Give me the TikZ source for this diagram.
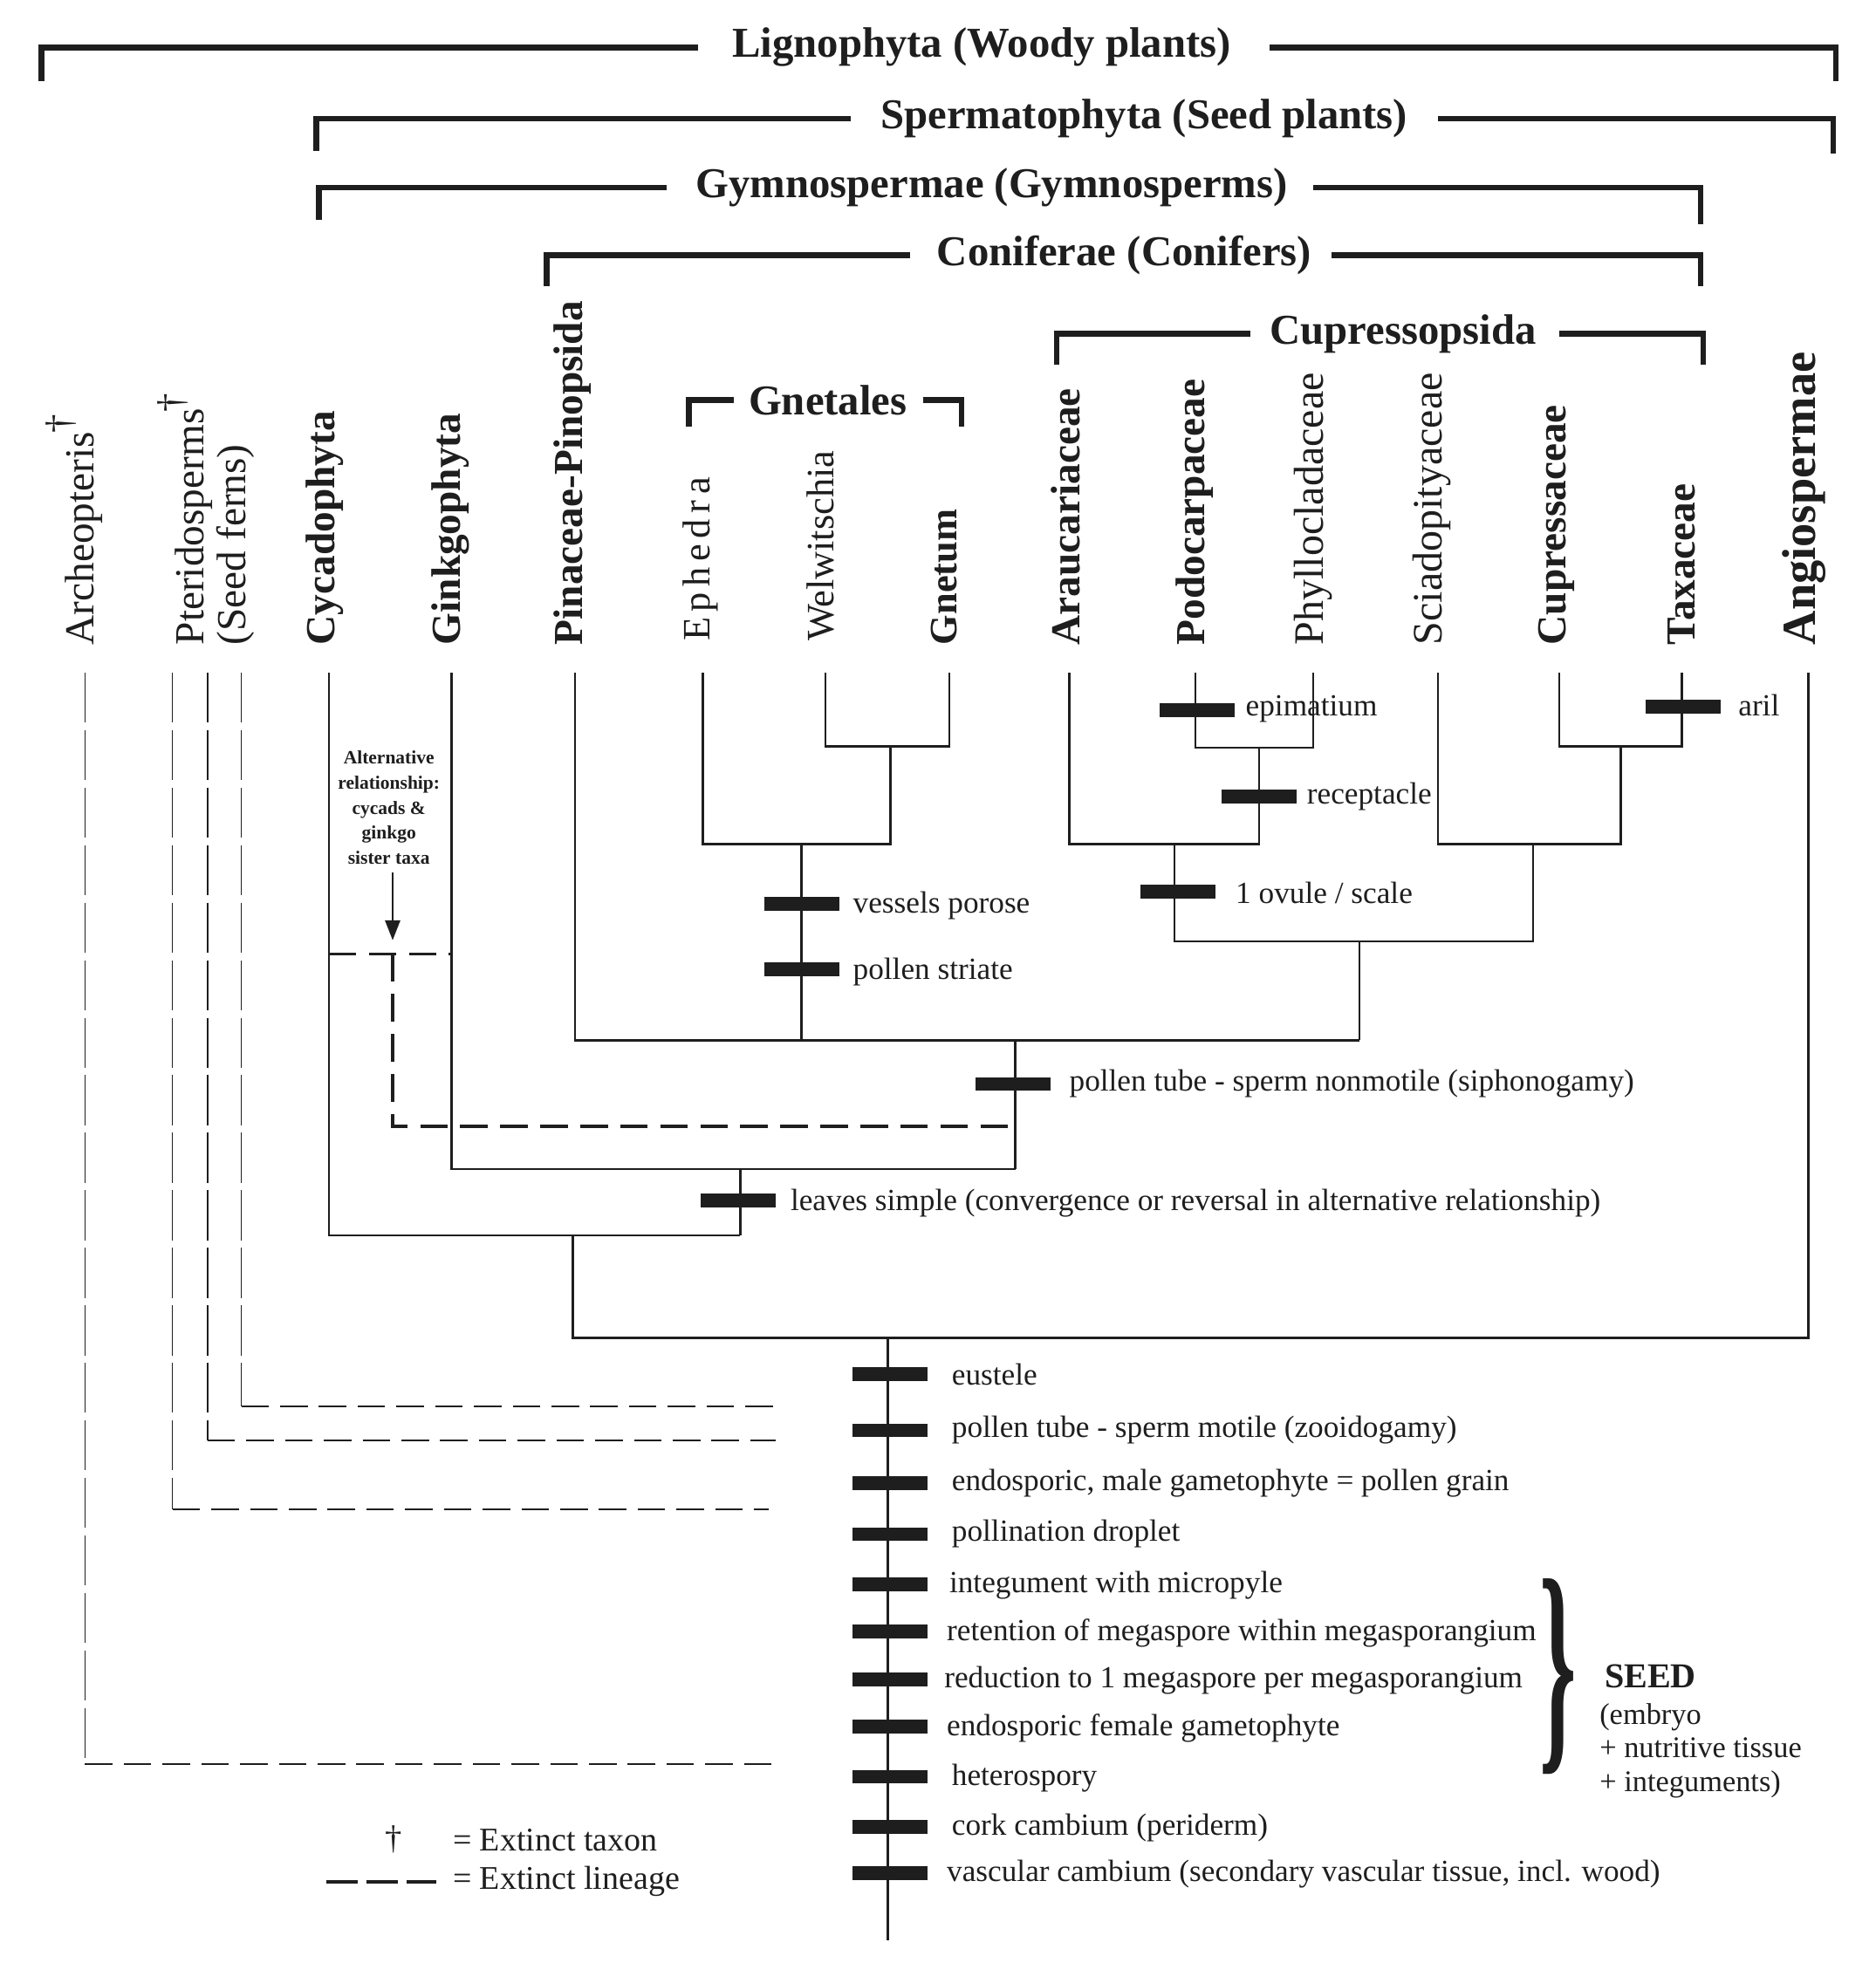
\documentclass[tikz,border=0pt]{standalone}
\usepackage{fontspec}
\setmainfont{Liberation Serif}
\usetikzlibrary{arrows.meta}
\definecolor{ink}{HTML}{1E1E1E}
\newcommand{\myfs}[1]{\fontsize{#1}{#1}\selectfont}
\begin{document}
\begin{tikzpicture}[x=1pt,y=-1pt,
  hdr/.style={line width=4.5pt, draw=ink, line join=miter},
  hdrtext/.style={font=\myfs{34}\bfseries, text=ink, inner sep=0},
  br/.style={line width=1.7pt, draw=ink},
  ext/.style={line width=1pt, draw=ink, dash pattern=on 40pt off 6pt},
  exth/.style={line width=1.6pt, draw=ink, dash pattern=on 22pt off 9pt},
  alt/.style={line width=2.6pt, draw=ink, dash pattern=on 22pt off 10pt},
  bar/.style={fill=ink, minimum width=60pt, minimum height=11pt, inner sep=0, draw=none},
  taxon/.style={rotate=90, anchor=west, inner sep=0, text=ink},
  dagg/.style={rotate=90, anchor=center, inner sep=0, text=ink, font=\myfs{30}},
  chartext/.style={anchor=west, inner sep=0, font=\myfs{24.6}, text=ink},
  legtext/.style={anchor=west, inner sep=0, font=\myfs{26.5}, text=ink}]
\useasboundingbox (0,0) rectangle (1500,1570);
\fill[white] (0,0) rectangle (1500,1570);

% ---------- group brackets ----------
\node[hdrtext] (lig) at (785,38) {Lignophyta (Woody plants)};
\draw[hdr] (33,65) |- (558,38);
\draw[hdr] (1015,38) -| (1468,65);
\node[hdrtext] (spe) at (915,95) {Spermatophyta (Seed plants)};
\draw[hdr] (253,121) |- (680,95);
\draw[hdr] (1150,95) -| (1466,123);
\node[hdrtext] (gym) at (793,150) {Gymnospermae (Gymnosperms)};
\draw[hdr] (255,176) |- (533,150);
\draw[hdr] (1050,150) -| (1360,179);
\node[hdrtext] (con) at (899,204) {Coniferae (Conifers)};
\draw[hdr] (437,229) |- (728,204);
\draw[hdr] (1065,204) -| (1360,229);
\node[hdrtext] (cus) at (1122,267) {Cupressopsida};
\draw[hdr] (845,292) |- (1000,267);
\draw[hdr] (1247,267) -| (1362,292);
\node[hdrtext] (gnt) at (662,320) {Gnetales};
\draw[hdr] (551,341) |- (587,320);
\draw[hdr] (738,320) -| (769,341);

% ---------- taxa ----------
\node[taxon, font=\myfs{33}] (Arch) at (67,516) {Archeopteris};
\node[dagg] (dagA) at (49,339) {\dag};
\node[taxon, font=\myfs{33}] (Pter) at (155,516) {Pteridosperms};
\node[dagg] (dagP) at (138,322) {\dag};
\node[taxon, font=\myfs{33}] (Seed) at (188,516) {(Seed ferns)};
\node[taxon, font=\myfs{33}\bfseries] (Cyc) at (260,516) {Cycadophyta};
\node[taxon, font=\myfs{33}\bfseries] (Gin) at (360,516) {Ginkgophyta};
\node[taxon, font=\myfs{33}\bfseries] (Pin) at (458,516) {Pinaceae-Pinopsida};
\node[taxon, font=\myfs{31}\addfontfeature{LetterSpace=15}] (Eph) at (560,513) {Ephedra};
\node[taxon, font=\myfs{31}] (Wel) at (656,513) {Welwitschia};
\node[taxon, font=\myfs{31}\bfseries] (Gne) at (755,516) {Gnetum};
\node[taxon, font=\myfs{33}\bfseries] (Ara) at (852,516) {Araucariaceae};
\node[taxon, font=\myfs{33}\bfseries] (Pod) at (955,516) {Podocarpaceae};
\node[taxon, font=\myfs{33.5}] (Phy) at (1050,516) {Phyllocladaceae};
\node[taxon, font=\myfs{33.5}] (Sci) at (1145,516) {Sciadopityaceae};
\node[taxon, font=\myfs{33}\bfseries] (Cup) at (1245,516) {Cupressaceae};
\node[taxon, font=\myfs{33}\bfseries] (Tax) at (1345,516) {Taxaceae};
\node[taxon, font=\myfs{38}\bfseries] (Ang) at (1443,516) {Angiospermae};

% ---------- tip coordinates ----------
\coordinate (archT) at (68,538);
\coordinate (pt1T) at (138,538);
\coordinate (pt2T) at (166,538);
\coordinate (pt3T) at (193,538);
\coordinate (cycT) at (263,538);
\coordinate (ginT) at (361,538);
\coordinate (pinT) at (460,538);
\coordinate (ephT) at (562,538);
\coordinate (welT) at (660,538);
\coordinate (gneT) at (759,538);
\coordinate (araT) at (855,538);
\coordinate (podT) at (956,538);
\coordinate (phyT) at (1050,538);
\coordinate (sciT) at (1150,538);
\coordinate (cupT) at (1247,538);
\coordinate (taxT) at (1345,538);
\coordinate (angT) at (1446,538);

% ---------- junctions ----------
\coordinate (wgJ) at (712,597);
\coordinate (gnJ) at (641,675);
\coordinate (gnB) at (641,832);
\coordinate (ppJ) at (1007,598);
\coordinate (apJ) at (939,675);
\coordinate (ctJ) at (1296,597);
\coordinate (sctJ) at (1226,675);
\coordinate (cuJ) at (1087,753);
\coordinate (cuB) at (1087,832);
\coordinate (conJ) at (812,832);
\coordinate (ptJ) at (812,935);
\coordinate (gkJ) at (592,935);
\coordinate (lsJ) at (592,988);
\coordinate (spJ) at (458,988);
\coordinate (rootJ) at (710,1070);
\coordinate (rootB) at (710,1552);

% ---------- tree ----------
\draw[br] (welT) |- (wgJ) -| (gneT);
\draw[br] (ephT) |- (gnJ) -| (wgJ);
\draw[br] (gnJ) -- (gnB);
\draw[br] (podT) |- (ppJ) -| (phyT);
\draw[br] (araT) |- (apJ) -| (ppJ);
\draw[br] (cupT) |- (ctJ) -| (taxT);
\draw[br] (sciT) |- (sctJ) -| (ctJ);
\draw[br] (apJ) |- (cuJ) -| (sctJ);
\draw[br] (cuJ) -- (cuB);
\draw[br] (pinT) |- (cuB);
\draw[br] (conJ) -- (ptJ);
\draw[br] (ginT) |- (ptJ);
\draw[br] (gkJ) -- (lsJ);
\draw[br] (cycT) |- (lsJ);
\draw[br] (spJ) |- (rootJ) -| (angT);
\draw[br] (rootJ) -- (rootB);

% ---------- extinct lineages ----------
\coordinate (aE) at (68,1411);  \coordinate (aH) at (622,1411);
\coordinate (p1E) at (138,1207); \coordinate (p1H) at (615,1207);
\coordinate (p2E) at (166,1152); \coordinate (p2H) at (620,1152);
\coordinate (p3E) at (193,1125); \coordinate (p3H) at (618,1125);
\draw[ext] (archT) -- (aE);  \draw[exth] (aE) -- (aH);
\draw[ext] (pt1T) -- (p1E);  \draw[exth] (p1E) -- (p1H);
\draw[ext] (pt2T) -- (p2E);  \draw[exth] (p2E) -- (p2H);
\draw[ext] (pt3T) -- (p3E);  \draw[exth] (p3E) -- (p3H);

% ---------- alternative relationship ----------
\node[font=\fontsize{15}{20}\selectfont\bfseries, align=center, text=ink, inner sep=0] (altT) at (311,646)
  {Alternative\\relationship:\\cycads \&\\ginkgo\\sister taxa};
\coordinate (arS) at (314,698);
\coordinate (arE) at (314,752);
\draw[line width=1.7pt, ink, -{Triangle[length=16pt,width=12pt]}] (arS) -- (arE);
\coordinate (altL) at (263,763);
\coordinate (altR) at (361,763);
\coordinate (altM) at (314,763);
\coordinate (altB) at (812,901);
\draw[alt] (altL) -- (altR);
\draw[alt] (altM) |- (altB);

% ---------- character bars (upper) ----------
\node[bar] (bEpi) at (957,568) {};
\node[chartext] (lEpi) at (996,567) {epimatium};
\node[bar] (bRec) at (1007,637) {};
\node[chartext] (lRec) at (1045,637) {receptacle};
\node[bar] (bAri) at (1346,565) {};
\node[chartext] (lAri) at (1390,564) {aril};
\node[bar] (bOvu) at (942,713) {};
\node[chartext] (lOvu) at (988,714) {1 ovule / scale};
\node[bar] (bVes) at (641,723) {};
\node[chartext] (lVes) at (682,724) {vessels porose};
\node[bar] (bStr) at (641,775) {};
\node[chartext] (lStr) at (682,777) {pollen striate};
\node[bar] (bSip) at (810,867) {};
\node[chartext] (lSip) at (855,867) {pollen tube - sperm nonmotile (siphonogamy)};
\node[bar] (bLea) at (590,960) {};
\node[chartext] (lLea) at (632,962) {leaves simple (convergence or reversal in alternative relationship)};

% ---------- character bars (stem) ----------
\node[bar] (s1) at (712,1099) {};  \node[chartext] (t1) at (761,1099) {eustele};
\node[bar] (s2) at (712,1144) {};  \node[chartext] (t2) at (761,1144) {pollen tube - sperm motile (zooidogamy)};
\node[bar] (s3) at (712,1186) {};  \node[chartext] (t3) at (761,1186) {endosporic, male gametophyte = pollen grain};
\node[bar] (s4) at (712,1227) {};  \node[chartext] (t4) at (761,1227) {pollination droplet};
\node[bar] (s5) at (712,1267) {};  \node[chartext] (t5) at (759,1268) {integument with micropyle};
\node[bar] (s6) at (712,1305) {};  \node[chartext] (t6) at (757,1306) {retention of megaspore within megasporangium};
\node[bar] (s7) at (712,1343) {};  \node[chartext] (t7) at (755,1344) {reduction to 1 megaspore per megasporangium};
\node[bar] (s8) at (712,1381) {};  \node[chartext] (t8) at (757,1382) {endosporic female gametophyte};
\node[bar] (s9) at (712,1421) {};  \node[chartext] (t9) at (761,1422) {heterospory};
\node[bar] (s10) at (712,1461) {}; \node[chartext] (t10) at (761,1462) {cork cambium (periderm)};
\node[bar] (s11) at (712,1498) {}; \node[chartext] (t11) at (757,1499) {vascular cambium (secondary vascular tissue, incl. wood)};

% ---------- SEED brace ----------
\node[inner sep=0, text=ink] (brace) at (1246,1341) {\myfs{60}\bfseries\scalebox{1.25}[3.15]{\}}};
\node[anchor=west, inner sep=0, text=ink, font=\myfs{28}\bfseries] (seed) at (1283,1341) {SEED};
\node[anchor=north west, inner sep=0, text=ink, align=left, font=\fontsize{24}{27}\selectfont] (seedx) at (1279,1362)
  {(embryo\\+ nutritive tissue\\+ integuments)};

% ---------- legend ----------
\node[inner sep=0, text=ink, font=\myfs{27}] (legD) at (315,1471) {\dag};
\node[legtext] (legT) at (362,1472) {= Extinct taxon};
\coordinate (legA) at (261,1505);
\coordinate (legB) at (349,1505);
\draw[line width=2.6pt, ink, dash pattern=on 25pt off 7pt] (legA) -- (legB);
\node[legtext] (legL) at (362,1505) {= Extinct lineage};
\end{tikzpicture}
\end{document}
